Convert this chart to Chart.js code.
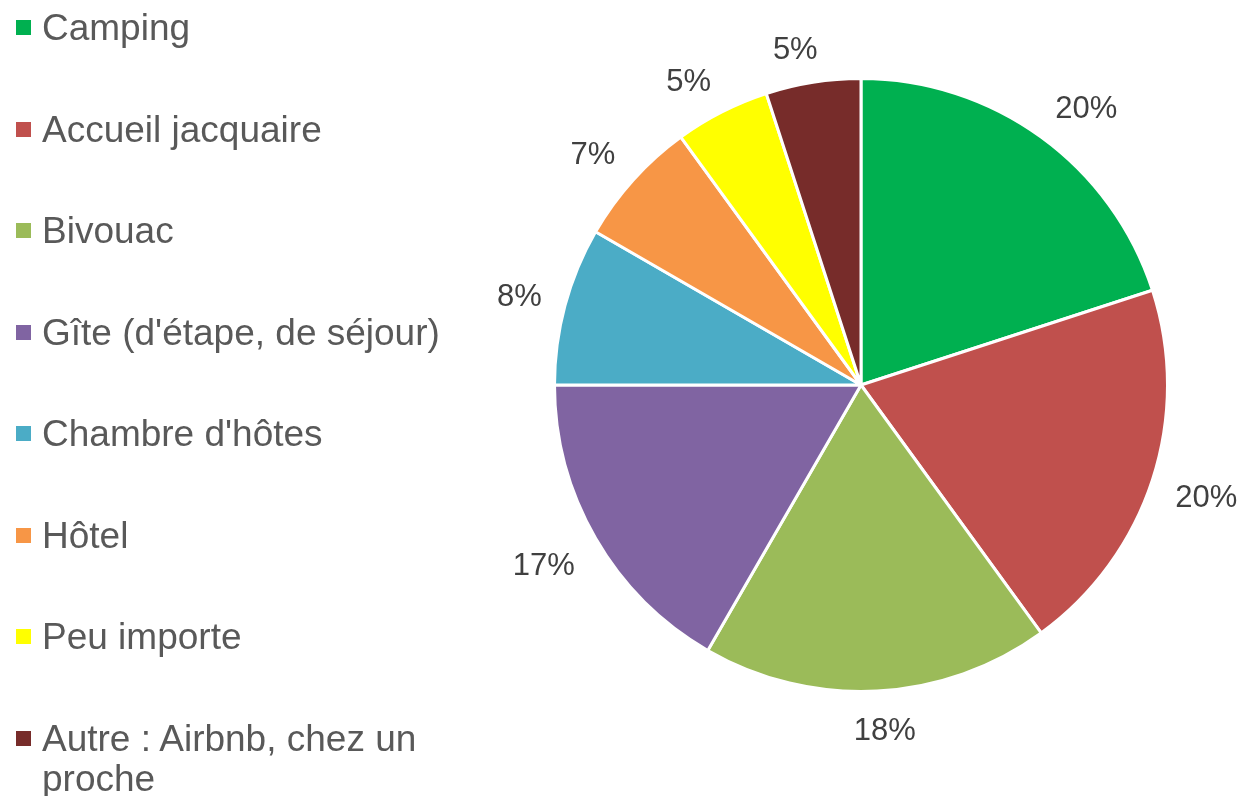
<!DOCTYPE html>
<html lang="fr">
<head>
<meta charset="utf-8">
<title>Hébergement</title>
<script src="https://cdn.jsdelivr.net/npm/chart.js@4/dist/chart.umd.min.js"></script>
<style>
  html, body { margin: 0; padding: 0; background: #fff; }
  #wrap { position: relative; width: 1243px; height: 796px; overflow: hidden; }
  #pie { position: absolute; left: 0; top: 0; }
  #legend { position: absolute; left: 16px; top: 8px; width: 440px; margin: 0; padding: 0; list-style: none;
    font-family: 'Liberation Sans', Arial, sans-serif; font-size: 37px; line-height: 40px; color: #595959; }
  #legend li { display: flex; align-items: flex-start; height: 40px; margin-bottom: 61.5px; }
  #legend .sw { flex: 0 0 15px; width: 15px; height: 15px; margin-top: 12px; margin-right: 11px; }
  #legend .tx { flex: 1 1 auto; }
</style>
</head>
<body>
<div id="wrap">
  <canvas id="pie" width="1243" height="796"></canvas>
  <ul id="legend"></ul>
</div>
<script>
// réponses (nombre de personnes)
const labels = ['Camping', 'Accueil jacquaire', 'Bivouac', "Gîte (d'étape, de séjour)", "Chambre d'hôtes", 'Hôtel', 'Peu importe', 'Autre : Airbnb, chez un proche'];
const counts = [12, 12, 11, 10, 5, 4, 3, 3];
const colors = ['#00B050', '#C0504D', '#9BBB59', '#8064A2', '#4BACC6', '#F79646', '#FFFF00', '#772C2A'];

const total = counts.reduce((a, b) => a + b, 0);

// légende à gauche (texte réel, avec retour à la ligne)
document.getElementById('legend').innerHTML = labels.map((l, i) =>
  `<li><span class="sw" style="background:${colors[i]}"></span><span class="tx">${l}</span></li>`).join('');

const clamp = (v) => Math.max(-1, Math.min(1, v));

// étiquettes en % à l'extérieur des parts (le coin de la boîte touche le rayon médian, comme Excel)
const outLabels = {
  id: 'outLabels',
  afterDatasetsDraw(chart) {
    const ctx = chart.ctx;
    const meta = chart.getDatasetMeta(0);
    ctx.save();
    ctx.font = '31px "Liberation Sans", Arial, sans-serif';
    ctx.fillStyle = '#404040';
    ctx.textAlign = 'center';
    ctx.textBaseline = 'middle';
    meta.data.forEach((arc, i) => {
      const p = arc.getProps(['x', 'y', 'startAngle', 'endAngle', 'outerRadius'], true);
      const mid = (p.startAngle + p.endAngle) / 2;
      const txt = Math.round(counts[i] / total * 100) + '%';
      const w = ctx.measureText(txt).width, h = 24;
      const c = Math.cos(mid), s = Math.sin(mid);
      const d = p.outerRadius + 24;
      const x = p.x + c * d + clamp(4 * c) * w / 2;
      const y = p.y + s * d + clamp(2 * s) * h / 2;
      ctx.fillText(txt, x, y + 4);
    });
    ctx.restore();
  }
};

new Chart(document.getElementById('pie').getContext('2d'), {
  type: 'pie',
  data: { labels, datasets: [{ data: counts, backgroundColor: colors, borderColor: '#ffffff', borderWidth: 3, hoverOffset: 0 }] },
  options: {
    responsive: false, animation: false,
    layout: { padding: { left: 553, right: 74, top: 77, bottom: 103 } },
    plugins: { legend: { display: false }, tooltip: { enabled: false } },
  },
  plugins: [outLabels],
});
</script>
</body>
</html>
